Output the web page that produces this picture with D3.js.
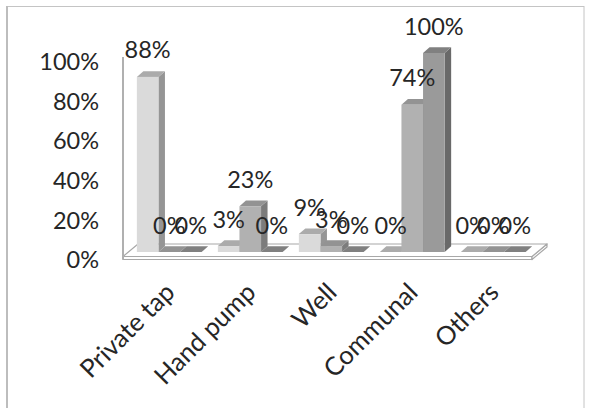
<!DOCTYPE html>
<html>
<head>
<meta charset="utf-8">
<script src="https://cdn.jsdelivr.net/npm/d3@7"></script>
<style>
  body { margin: 0; background: #fff; }
  svg { display: block; }
  text { font-family: Lato, "Open Sans", sans-serif; fill: #262626; }
</style>
</head>
<body>
<svg id="chart" width="589" height="408"></svg>
<script>
// Water source shares, three respondent groups per source
const categories = ["Private tap", "Hand pump", "Well", "Communal", "Others"];
const series1 = [0.88, 0.03, 0.09, 0.00, 0.00];
const series2 = [0.00, 0.23, 0.03, 0.74, 0.00];
const series3 = [0.00, 0.00, 0.00, 1.00, 0.00];
const yTicks = [0, 0.2, 0.4, 0.6, 0.8, 1.0];

const seriesList = [series1, series2, series3];
// front / top / side shading for each series
const shades = [
  { front: "#dadada", top: "#ababab", side: "#959595" },
  { front: "#b1b1b1", top: "#939393", side: "#7c7c7c" },
  { front: "#9a9a9a", top: "#808080", side: "#696969" }
];

const FONT = 23.5;
const CAT_FONT = 25.5;
const svg = d3.select("#chart");
const fmt = d3.format(".0%");

// Frame
svg.append("rect")
  .attr("x", 7).attr("y", 6.5).attr("width", 577).attr("height", 420)
  .attr("fill", "none").attr("stroke", "#c4c4c4").attr("stroke-width", 1);
svg.append("line")
  .attr("x1", 7).attr("x2", 7).attr("y1", 6).attr("y2", 408)
  .attr("stroke", "#bdbdbd").attr("stroke-width", 2);

// Scales: axis labels sit on the front plane, columns one step deeper
const yAxis = d3.scaleLinear().domain([0, 1]).range([260, 62]);
const yBar = d3.scaleLinear().domain([0, 1]).range([252, 53]);
const x = d3.scaleBand().domain(categories).range([128.75, 533.75])
  .paddingInner(0.2).paddingOuter(0.1);
const xs = d3.scaleBand().domain(d3.range(seriesList.length)).range([0, x.bandwidth()]);

const depth = { dx: 6.5, dy: -5.7 };

// Floor slab
const fl = { left: 123, right: 532, front: 256.5, thick: 3, dx: 15, dy: -12.5 };
const floor = svg.append("g").attr("fill", "#fff").attr("stroke", "#a8a8a8").attr("stroke-width", 1.2)
  .attr("stroke-linejoin", "round");
floor.append("polygon").attr("points", [
  [fl.left, fl.front], [fl.right, fl.front], [fl.right, fl.front + fl.thick], [fl.left, fl.front + fl.thick]
].join(" "));
floor.append("polygon").attr("points", [
  [fl.right, fl.front], [fl.right + fl.dx, fl.front + fl.dy],
  [fl.right + fl.dx, fl.front + fl.dy + fl.thick], [fl.right, fl.front + fl.thick]
].join(" "));
floor.append("polygon").attr("points", [
  [fl.left, fl.front], [fl.right, fl.front], [fl.right + fl.dx, fl.front + fl.dy], [fl.left + fl.dx, fl.front + fl.dy]
].join(" "));

// Vertical axis line
svg.append("line")
  .attr("x1", 123).attr("x2", 123).attr("y1", 57).attr("y2", fl.front + fl.thick)
  .attr("stroke", "#b0b0b0").attr("stroke-width", 2);

// Y tick labels
svg.append("g").selectAll("text").data(yTicks).join("text")
  .attr("x", 99).attr("y", d => yAxis(d)).attr("dy", "0.35em")
  .attr("text-anchor", "end").attr("font-size", FONT)
  .text(d => fmt(d));

// Columns
const bars = [];
categories.forEach((c, ci) => {
  seriesList.forEach((s, si) => {
    bars.push({ cat: c, si, v: s[ci] });
  });
});

const barG = svg.append("g");
bars.forEach(b => {
  const x0 = x(b.cat) + xs(b.si);
  const w = xs.bandwidth();
  const yt = yBar(b.v), y0 = yBar(0);
  const sh = shades[b.si];
  const g = barG.append("g");
  g.append("polygon").attr("fill", sh.side).attr("points", [
    [x0 + w, yt], [x0 + w + depth.dx, yt + depth.dy], [x0 + w + depth.dx, y0 + depth.dy], [x0 + w, y0]
  ].join(" "));
  g.append("polygon").attr("fill", sh.top).attr("points", [
    [x0, yt], [x0 + w, yt], [x0 + w + depth.dx, yt + depth.dy], [x0 + depth.dx, yt + depth.dy]
  ].join(" "));
  g.append("rect").attr("fill", sh.front)
    .attr("x", x0).attr("y", yt).attr("width", w).attr("height", y0 - yt);
});

// Value labels
svg.append("g").selectAll("text").data(bars).join("text")
  .attr("x", d => x(d.cat) + xs(d.si) + xs.bandwidth() / 2)
  .attr("y", d => yBar(d.v) - 18.5)
  .attr("text-anchor", "middle").attr("font-size", FONT)
  .text(d => fmt(d.v));

// Category labels, rotated
svg.append("g").selectAll("text").data(categories).join("text")
  .attr("transform", d => `translate(${x(d) + x.bandwidth() / 2 + 7},294) rotate(-45)`)
  .attr("text-anchor", "end").attr("font-size", CAT_FONT)
  .text(d => d);
</script>
</body>
</html>
